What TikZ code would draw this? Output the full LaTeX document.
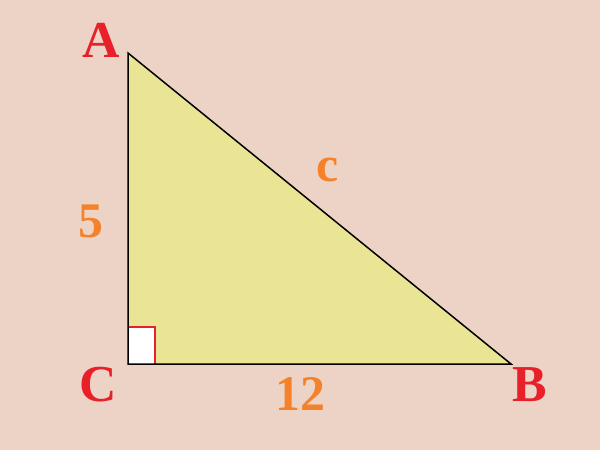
\documentclass[tikz,border=0pt]{standalone}
\usepackage{fontspec}
\setmainfont{Liberation Serif}
\definecolor{bgc}{HTML}{EDD3C6}
\definecolor{fillc}{HTML}{E9E594}
\definecolor{redc}{HTML}{E8202A}
\definecolor{orc}{HTML}{F5822A}
\begin{document}
\begin{tikzpicture}[x=1bp,y=-1bp,
  vlab/.style={inner sep=0pt,text=redc,font=\fontsize{52}{52}\selectfont\bfseries},
  slab/.style={inner sep=0pt,text=orc,font=\fontsize{50}{50}\selectfont\bfseries}]
\fill[bgc] (0,0) rectangle (600,450);
\useasboundingbox (0,0) rectangle (600,450);
\coordinate (A) at (128,53);
\coordinate (C) at (128,364);
\coordinate (B) at (511,364);
\fill[fillc] (A) -- (B) -- (C) -- cycle;
\fill[white] (128,327) rectangle (155,364);
\draw[redc,line width=2bp] (128,327) -- (155,327) -- (155,364);
\draw[black,line width=1.5bp,line join=miter] (A) -- (B) -- (C) -- cycle;
\node[vlab] (la) at (101.5,40) {A};
\node[vlab] (lc) at (98,385) {C};
\node[vlab] (lb) at (530,385) {B};
\node[slab] (l5) at (91,221) {5};
\node[slab] (lcc) at (328,170) {c};
\node[slab] (l12) at (300,394) {12};
\end{tikzpicture}
\end{document}
